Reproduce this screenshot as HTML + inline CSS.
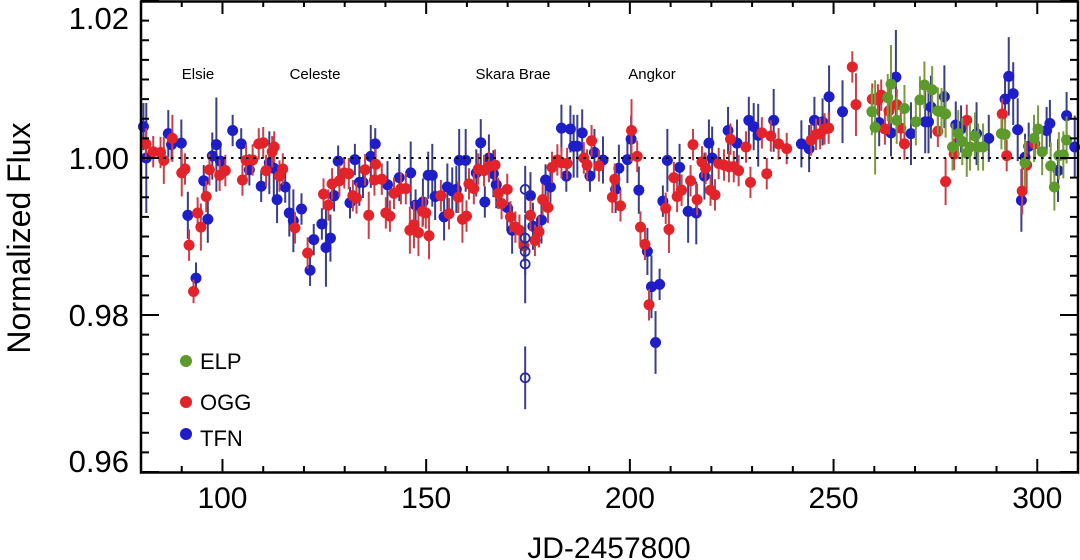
<!DOCTYPE html>
<html><head><meta charset="utf-8"><title>Light curve</title>
<style>
html,body{margin:0;padding:0;background:#fff;}
svg{display:block;font-family:"Liberation Sans",Arial,sans-serif;}
</style></head>
<body>
<svg id="chart" width="1080" height="560" viewBox="0 0 1080 560" xmlns="http://www.w3.org/2000/svg">
  <g id="marks"></g>
  <line id="baseline" stroke="#000" stroke-width="2" stroke-dasharray="2.5,5"></line>
  <rect x="141" y="1.5" width="937" height="471" fill="none" stroke="#000" stroke-width="2.5"></rect>
  <g id="ticks"></g>
  <g id="labels"></g>
  <text x="0" y="0" transform="translate(30,238) rotate(-90)" text-anchor="middle" font-size="32" fill="#000">Normalized Flux</text>
  <text x="609" y="558" text-anchor="middle" font-size="30" fill="#000">JD-2457800</text>
  <g font-size="15" fill="#000" text-anchor="middle">
    <text x="198" y="79">Elsie</text>
    <text x="315" y="79">Celeste</text>
    <text x="513" y="79">Skara Brae</text>
    <text x="652" y="79">Angkor</text>
  </g>
  <g font-size="22" fill="#000">
    <g><circle cx="186" cy="361" r="6" fill="#5c9a2c"></circle><text x="200" y="369">ELP</text></g>
    <g><circle cx="186" cy="402" r="6" fill="#e2242a"></circle><text x="200" y="410">OGG</text></g>
    <g><circle cx="186" cy="434" r="6" fill="#1e1ec8"></circle><text x="200" y="446">TFN</text></g>
  </g>
</svg>
<script>
// flux values stored as (flux-1)*1000  (parts per thousand)
const tfnDay=[80.6,81.3,86.7,87.5,89.9,91.5,93.5,95.4,96.4,97.5,98.5,99.5,102.5,104.6,106.6,109.5,111.5,112.6,113.4,115.4,116.4,117.4,119.4,121.5,122.4,124.4,125.4,126.5,127.4,128.4,131.3,132.5,133.6,134.5,136.4,137.5,140.5,143.4,146.2,147.4,149.2,150.5,151.5,152.2,154.4,155.2,156.4,157.4,158.1,159.7,162.3,163.4,164.4,165.4,166.5,167.2,169.9,171.1,175.6,176.2,178.3,179.3,180.5,183.2,184.4,185.4,186.2,187.1,188.3,190.2,191.3,193.4,196.5,197.3,199.4,200.3,202.2,204.3,205.3,206.3,207.3,208.1,209.2,212.2,214.3,216.3,218.3,219.4,220.2,224.1,226.3,229.2,230.4,231.5,235.3,242.1,244.0,245.3,247.3,248.9,252.2,261.2,264.1,265.3,269.0,272.5,273.3,273.9,277.2,280.0,281.3,285.1,288.1,292.1,293.0,294.1,295.2,296.1,297.0,297.9,302.3,303.1,305.1,307.2,309.2];
const tfnFluxPpt=[4.0,0,3.1,1.7,1.9,-7.3,-15.3,-2.9,-7.8,0.25,1.7,-0.4,3.5,1.8,-1.5,-3.6,-0.6,-1.3,-5.3,-3.7,-7.0,-8.0,-6.5,-14.3,-10.4,-8.4,-11.4,-10.2,-4.8,-0.4,-5.7,-0.2,-3.1,-3.1,0.2,1.8,-3.4,-2.5,-1.9,-6.0,-5.6,-2.2,-2.2,-4.9,-7.5,-3.7,-4.2,-4.0,-0.3,-0.3,-1.9,1.95,-5.6,0,-2.0,-3.4,-6.3,-9.2,-4.8,-8.7,-7.9,-2.8,-3.7,3.8,-2.3,3.7,1.5,1.5,3.2,-2.3,0.7,-0.25,-4.0,-1.3,-0.2,2.4,-4.1,-11.9,-16.4,-23.5,-16.1,-5.5,-0.3,-1.2,-6.8,-7.0,-2.3,1.9,0,3.5,1.9,4.8,4.0,2.9,4.8,1.8,1.2,4.8,4.6,7.8,5.9,4.5,3.2,10.3,3.1,4.6,4.6,6.5,7.8,4.2,3.7,3.1,2.5,7.5,10.4,8.2,3.6,-5.4,0.1,1.5,3.5,4.4,-1.6,5.4,1.4];
const tfnErrPpt=[3,7,3,2,3,3,2,2,3,3,6,2,2,2,2,2,4,4,3,2,3,4,2,2,2,2,5,3,2,2,2,2,3,2,4,2,3,3,4,2,3,3,4,3,3,3,3,3,4,4,3,3,2,3,3,3,3,3,3,3,3,2,2,3,2,3,4,4,3,2,3,3,3,3,3,3,3,3,4,4,2,2,4,3,4,4,3,3,4,3,3,3,3,4,4,3,3,3,3,4,4,3,3,6,4,4,4,4,4,3,3,4,3,3,5,4,4,4,3,3,3,3,4,3,4];
const tfnOpenDay=[174.3,174.3,174.3,174.3,174.3];
const tfnOpenFluxPpt=[-4.0,-10.2,-11.9,-13.5,-28.0];
const tfnOpenErrPpt=[3,3,3,5,4];
const oggDay=[81.2,83.0,84.8,85.6,87.7,90.0,90.8,91.8,92.9,93.9,94.7,96.0,96.8,99.3,100.7,104.9,105.8,107.4,108.9,110.0,110.7,112.2,112.7,114.0,114.8,117.8,120.9,124.8,126.0,126.9,128.7,129.9,131.0,132.0,132.9,135.0,135.9,137.3,137.6,139.1,140.1,141.1,142.1,143.8,145.0,146.0,147.0,148.1,149.1,149.9,150.7,153.6,155.6,157.9,158.9,159.9,160.5,161.7,162.8,164.2,165.4,166.9,167.7,168.5,169.9,170.7,171.9,172.9,174.0,175.6,176.7,177.7,178.6,179.9,180.9,182.2,183.2,184.6,188.7,189.5,190.6,192.4,195.7,196.3,197.7,200.4,201.8,202.6,203.7,204.7,208.8,209.6,210.8,211.6,212.7,214.9,215.5,216.5,217.7,218.6,219.8,220.9,221.8,223.1,224.3,224.7,225.5,226.7,228.5,229.6,232.4,233.6,234.6,236.5,238.5,244.5,245.7,246.7,247.8,248.8,254.6,255.5,259.5,260.9,261.7,262.6,263.6,265.5,266.5,267.4,275.6,277.5,279.6,282.7,291.4,292.5,296.3,297.4,299.4];
const oggFluxPpt=[1.8,0.8,0.7,-0.3,2.5,-1.9,-1.4,-11.1,-17.0,-7.0,-8.8,-4.9,-1.5,-2.2,-1.6,-2.8,-0.3,-0.25,1.8,1.95,-1.6,0.8,1.4,-2.3,-1.4,-8.9,-12.1,-4.6,-6.0,-3.3,-2.9,-1.9,-2.0,-4.8,-5.1,-1.5,-7.3,-2.8,-0.8,-2.7,-7.0,-7.4,-4.5,-3.9,-3.9,-9.2,-8.5,-9.5,-6.8,-7.0,-9.9,-4.8,-7.1,-5.0,-7.8,-7.4,-3.3,-3.9,-1.4,-1.6,-1.1,-0.9,-4.5,-5.8,-4.0,-7.5,-8.8,-9.2,-11.2,-7.3,-10.5,-9.4,-5.3,-6.3,-1.2,-0.25,-0.6,-0.7,0,-0.9,2.2,-1.0,-5.0,-2.7,-6.1,3.5,0.2,-8.8,-11.0,-18.7,-6.4,-9.1,-2.5,-4.9,-4.1,-2.9,1.7,-5.3,-0.5,-1.3,-4.1,-4.7,-0.7,-0.9,-1.1,2.4,-1.1,-1.6,1.4,-3.1,3.2,-2.0,2.8,1.8,1.2,2.3,3.0,3.1,3.7,3.8,11.6,6.8,7.5,7.4,8.0,3.7,6.0,6.8,3.8,1.8,3.4,-3.0,0.5,4.8,5.6,0.3,-4.2,-0.9,1.8];
const oggErrPpt=[2,2,2,3,3,3,2,2,1.5,2,3,2,2,2,2,2,2,2,2,2,2,2,2,2,2,2,2,2,2,2,2,2,2,2,2,2,3,2,2,2,2,2,2,2,2,3,3,3,2,2,3,2,2,2,3,2,2,2,2,2,2,2,2,2,2,2,2,2,2,2,2,2,2,2,2,2,2,2,2,2,2,2,2,2,2,4,2,2,2,2,2,3,2,2,2,2,2,2,2,2,2,2,2,2,2,2,2,2,2,2,2,2,2,2,2,2,2,2,2,2,2,4,2,2,2,2,3,2,2,2,2,3,2,2,2,2,3,3,2];
const elpDay=[259.4,260.2,263.3,264.1,265.5,267.4,270.2,271.2,272.3,274.2,275.6,276.5,277.5,279.2,280.6,281.6,282.7,283.5,284.7,285.5,286.7,291.2,292.1,297.0,299.2,300.2,301.2,303.3,304.2,305.3,306.4,307.2];
const elpFluxPpt=[5.9,3.9,7.7,9.4,4.8,6.3,4.6,7.4,9.3,8.7,6.0,5.9,5.6,1.4,3.1,2.1,0.6,1.4,2.8,1.4,1.4,3.1,3.0,-0.6,2.5,3.7,0.8,-1.0,-3.7,0.3,0.4,2.3];
const elpErrPpt=[3,6,3,5,3,3,3,3,3,3,3,3,3,3,3,3,3,3,3,3,3,2,2,3,3,3,3,3,3,3,3,3];
const xTickMajor=[100,150,200,250,300];
const xTickLabels=["100","150","200","250","300"];
const yTickMajor=[0.96,0.98,1.00,1.02];
const yTickLabels=["0.96","0.98","1.00","1.02"];

const X0=80, X1=310, PX0=141, PX1=1078;
const Y0=0.96, Y1=1.02, PY0=472, PY1=1;
function xs(d){return PX0+(d-X0)/(X1-X0)*(PX1-PX0);}
function ys(f){return PY0+(f-Y0)/(Y1-Y0)*(PY1-PY0);}
function fromPpt(p){return 1+p/1000;}
const NS="http://www.w3.org/2000/svg";
function mk(tag,attrs,parent){const e=document.createElementNS(NS,tag);for(const k in attrs)e.setAttribute(k,attrs[k]);parent.appendChild(e);return e;}

const marks=document.getElementById('marks');
function series(days,ppt,err,fill,barColor,name,open){
  const g=mk('g',{},marks);
  
  
  for(let i=0;i<days.length;i++){
    const x=xs(days[i]);const e=(err[i]!==undefined?err[i]:2.5);
    const l=mk('line',{x1:x,x2:x,y1:ys(fromPpt(ppt[i]+e)),y2:ys(fromPpt(ppt[i]-e)),stroke:barColor,'stroke-width':2},g);
    
    
  }
  for(let i=0;i<days.length;i++){
    const c=mk('circle',{cx:xs(days[i]),cy:ys(fromPpt(ppt[i])),r:open?4.5:5.5,fill:open?'none':fill,stroke:open?fill:'none','stroke-width':1.8},g);
    
    
  }
}
series(tfnDay,tfnFluxPpt,tfnErrPpt,'#1e1ec8','#3a3f86','tfn',false);
series(oggDay,oggFluxPpt,oggErrPpt,'#e2242a','#c8404a','ogg',false);
series(elpDay,elpFluxPpt,elpErrPpt,'#5c9a2c','#7a9a40','elp',false);
series(tfnOpenDay,tfnOpenFluxPpt,tfnOpenErrPpt,'#2a2aa0','#3a3f86','tfn-open',true);

const bl=document.getElementById('baseline');
bl.setAttribute('x1',PX0);bl.setAttribute('x2',PX1);bl.setAttribute('y1',ys(1));bl.setAttribute('y2',ys(1));

const ticks=document.getElementById('ticks');
for(let d=90;d<=X1;d+=10){
  const major=(d%50===0);const L=major?13:6;const x=xs(d);
  const t1=mk('line',{x1:x,x2:x,y1:PY0,y2:PY0-L,stroke:'#000','stroke-width':2},ticks);
  
  
  const t2=mk('line',{x1:x,x2:x,y1:PY1,y2:PY1+L,stroke:'#000','stroke-width':2},ticks);
  
  
}
for(let k=0;k<=24;k++){
  const f=Y0+k*0.0025;const major=(k%8===0);const L=major?18:8;const y=ys(f);
  const t1=mk('line',{x1:PX0,x2:PX0+L,y1:y,y2:y,stroke:'#000','stroke-width':2},ticks);
  
  
  const t2=mk('line',{x1:PX1,x2:PX1-L,y1:y,y2:y,stroke:'#000','stroke-width':2},ticks);
  
  
}
const labels=document.getElementById('labels');
for(let i=0;i<xTickMajor.length;i++){
  const t=mk('text',{x:xs(xTickMajor[i]),y:508,'text-anchor':'middle','font-size':30,fill:'#000'},labels);
  t.textContent=xTickLabels[i];
  
  
}
for(let i=0;i<yTickMajor.length;i++){
  let y=ys(yTickMajor[i]);y=Math.max(18,Math.min(461,y));
  const t=mk('text',{x:129,y:y+11,'text-anchor':'end','font-size':31,fill:'#000'},labels);
  t.textContent=yTickLabels[i];
  
  
}
</script>
</body></html>
